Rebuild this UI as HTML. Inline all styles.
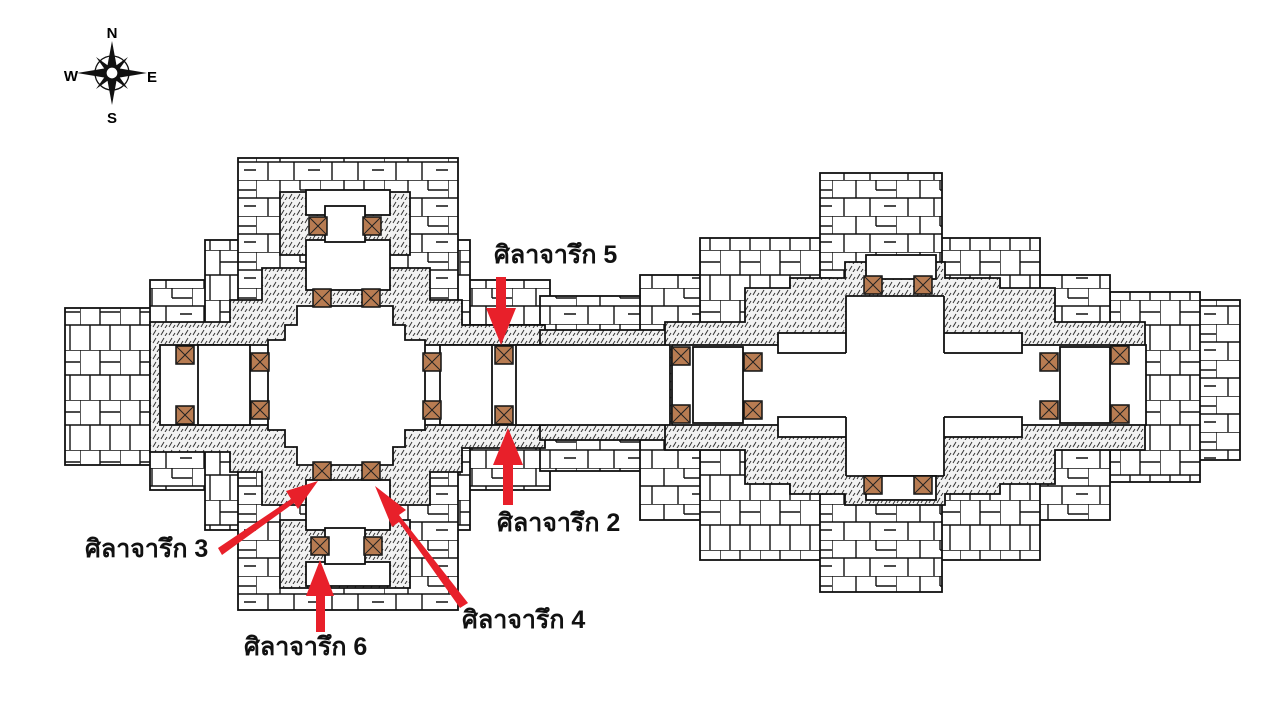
<!DOCTYPE html>
<html><head><meta charset="utf-8"><style>
html,body{margin:0;padding:0;background:#fff;width:1280px;height:720px;overflow:hidden}
svg{display:block}
.lbl{font-family:"Liberation Sans","DejaVu Sans",sans-serif;font-weight:bold;font-size:25px;fill:#111}
</style></head><body>
<svg width="1280" height="720" viewBox="0 0 1280 720" xmlns="http://www.w3.org/2000/svg">
<defs>
<pattern id="brick" width="64" height="36" patternUnits="userSpaceOnUse">
<rect width="64" height="36" fill="#fff"/>
<path d="M0 0H64M0 18H64M0 0V18M24 0V18M44 0V10M44 10H64M12 18V36M38 18V36M52 26H64" stroke="#111" stroke-width="1.4" fill="none"/>
</pattern>
<pattern id="brick2" width="40" height="50" patternUnits="userSpaceOnUse">
<rect width="40" height="50" fill="#fff"/>
<path d="M0 0H40M0 25H40M0 0V25M20 0V25M10 25V50M30 25V50M20 12H40" stroke="#111" stroke-width="1.4" fill="none"/>
</pattern>
<pattern id="hatch" width="8" height="8" patternUnits="userSpaceOnUse">
<rect width="8" height="8" fill="#f2f2f2"/>
<path d="M1 7L4 2M5 8L7 5" stroke="#333" stroke-width="1"/>
</pattern>
<g id="door"><rect x="-9" y="-9" width="18" height="18" fill="#b87c52" stroke="#111" stroke-width="1.5"/><path d="M-9 -9L9 9M9 -9L-9 9" stroke="#222" stroke-width="1"/></g>
</defs>

<!-- compass -->
<g transform="translate(112,73)">
<circle r="17" fill="none" stroke="#111" stroke-width="1.3"/>
<polygon points="0,-32 5,-5 0,0 -5,-5" fill="#111"/>
<polygon points="0,32 5,5 0,0 -5,5" fill="#111"/>
<polygon points="-35,0 -5,-5 0,0 -5,5" fill="#111"/>
<polygon points="35,0 5,-5 0,0 5,5" fill="#111"/>
<polygon points="-16,-16 -2,-6 0,0 -6,-2" fill="#111"/>
<polygon points="16,-16 2,-6 0,0 6,-2" fill="#111"/>
<polygon points="-16,16 -2,6 0,0 -6,2" fill="#111"/>
<polygon points="16,16 2,6 0,0 6,2" fill="#111"/>
<circle r="6" fill="#fff" stroke="#111" stroke-width="1.3"/>
<text x="0" y="-35" text-anchor="middle" font-family="Liberation Sans,sans-serif" font-weight="bold" font-size="15">N</text>
<text x="0" y="50" text-anchor="middle" font-family="Liberation Sans,sans-serif" font-weight="bold" font-size="15">S</text>
<text x="-41" y="8" text-anchor="middle" font-family="Liberation Sans,sans-serif" font-weight="bold" font-size="15">W</text>
<text x="40" y="9" text-anchor="middle" font-family="Liberation Sans,sans-serif" font-weight="bold" font-size="15">E</text>
</g>

<g stroke="#111" stroke-width="1.8">
<rect x="65" y="308" width="100" height="157" fill="url(#brick2)"/>
<rect x="150" y="280" width="400" height="210" fill="url(#brick)"/>
<rect x="205" y="240" width="265" height="290" fill="url(#brick2)"/>
<rect x="238" y="158" width="220" height="452" fill="url(#brick)"/>
<rect x="540" y="296" width="160" height="175" fill="url(#brick)"/>
<rect x="1190" y="300" width="50" height="160" fill="url(#brick)"/>
<rect x="1110" y="292" width="90" height="190" fill="url(#brick2)"/>
<rect x="640" y="275" width="470" height="245" fill="url(#brick)"/>
<rect x="700" y="238" width="340" height="322" fill="url(#brick2)"/>
<rect x="820" y="173" width="122" height="419" fill="url(#brick)"/>

<polygon fill="url(#hatch)" points="150,322 230,322 230,300 262,300 262,268 320,268 320,255 280,255 280,192 410,192 410,255 372,255 372,268 430,268 430,300 462,300 462,325 545,325 545,448 462,448 462,472 430,472 430,505 372,505 372,520 410,520 410,588 280,588 280,520 320,520 320,505 262,505 262,472 230,472 230,452 150,452"/>
<rect x="540" y="330" width="135" height="16" fill="url(#hatch)"/>
<rect x="540" y="424" width="135" height="16" fill="url(#hatch)"/>
<polygon fill="url(#hatch)" points="665,322 745,322 745,288 790,288 790,278 845,278 845,262 945,262 945,278 1000,278 1000,288 1055,288 1055,322 1145,322 1145,450 1055,450 1055,484 1000,484 1000,494 945,494 945,505 845,505 845,494 790,494 790,484 745,484 745,450 665,450"/>

<rect x="160" y="345" width="385" height="80" fill="#fff"/>
<polygon fill="#fff" points="297,306 393,306 393,325 405,325 405,340 425,340 425,430 405,430 405,447 393,447 393,465 297,465 297,447 285,447 285,430 268,430 268,340 285,340 285,325 297,325"/>
<rect x="306" y="240" width="84" height="50" fill="#fff"/>
<rect x="306" y="190" width="84" height="25" fill="#fff"/>
<rect x="325" y="206" width="40" height="36" fill="#fff"/>
<rect x="306" y="480" width="84" height="50" fill="#fff"/>
<rect x="306" y="562" width="84" height="24" fill="#fff"/>
<rect x="325" y="528" width="40" height="36" fill="#fff"/>
<rect x="198" y="345" width="52" height="80" fill="#fff"/>
<rect x="440" y="345" width="52" height="80" fill="#fff"/>
<rect x="516" y="345" width="154" height="80" fill="#fff"/>
<rect x="672" y="345" width="474" height="80" fill="#fff"/>
<rect x="778" y="333" width="70" height="20" fill="#fff"/>
<rect x="937" y="333" width="85" height="20" fill="#fff"/>
<rect x="778" y="417" width="70" height="20" fill="#fff"/>
<rect x="937" y="417" width="85" height="20" fill="#fff"/>
<rect x="846" y="296" width="98" height="180" fill="#fff" stroke="none"/>
<path d="M846 296V353M944 296V353M846 417V476M944 417V476M846 296H944M846 476H944" fill="none"/>
<rect x="866" y="255" width="70" height="24" fill="#fff"/>
<rect x="866" y="476" width="70" height="24" fill="#fff"/>
<rect x="693" y="347" width="50" height="76" fill="#fff"/>
<rect x="1060" y="347" width="50" height="76" fill="#fff"/>
</g>

<g>
<use href="#door" x="185" y="355"/><use href="#door" x="185" y="415"/>
<use href="#door" x="260" y="362"/><use href="#door" x="260" y="410"/>
<use href="#door" x="432" y="362"/><use href="#door" x="432" y="410"/>
<use href="#door" x="504" y="355"/><use href="#door" x="504" y="415"/>
<use href="#door" x="318" y="226"/><use href="#door" x="372" y="226"/>
<use href="#door" x="322" y="298"/><use href="#door" x="371" y="298"/>
<use href="#door" x="322" y="471"/><use href="#door" x="371" y="471"/>
<use href="#door" x="320" y="546"/><use href="#door" x="373" y="546"/>
<use href="#door" x="681" y="356"/><use href="#door" x="681" y="414"/>
<use href="#door" x="753" y="362"/><use href="#door" x="753" y="410"/>
<use href="#door" x="873" y="285"/><use href="#door" x="923" y="285"/>
<use href="#door" x="873" y="485"/><use href="#door" x="923" y="485"/>
<use href="#door" x="1049" y="362"/><use href="#door" x="1049" y="410"/>
<use href="#door" x="1120" y="355"/><use href="#door" x="1120" y="414"/>
</g>

<g fill="#e8202a">
<polygon points="496,277 506,277 506,308 516,308 501,345 486,308 496,308"/>
<polygon points="503,505 513,505 513,465 523,465 508,428 493,465 503,465"/>
<polygon points="218,548 291,499 286,491 318,481 298,509 294,503 222,555"/>
<polygon points="460,608 399,522 392,527 375,486 406,510 399,515 468,603"/>
<polygon points="316,632 325,632 325,596 334,596 320,560 306,596 316,596"/>
</g>

<text class="lbl" x="494" y="263">ศิลาจารึก 5</text>
<text class="lbl" x="497" y="531">ศิลาจารึก 2</text>
<text class="lbl" x="85" y="557">ศิลาจารึก 3</text>
<text class="lbl" x="462" y="628">ศิลาจารึก 4</text>
<text class="lbl" x="244" y="655">ศิลาจารึก 6</text>
</svg>
</body></html>
